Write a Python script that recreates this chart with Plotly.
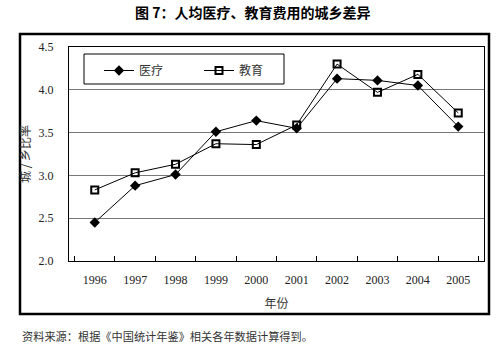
import plotly.graph_objects as go

years = ["1996", "1997", "1998", "1999", "2000", "2001", "2002", "2003", "2004", "2005"]
medical = [2.45, 2.88, 3.01, 3.51, 3.64, 3.55, 4.13, 4.11, 4.05, 3.57]
education = [2.83, 3.03, 3.13, 3.37, 3.36, 3.59, 4.30, 3.97, 4.18, 3.73]

W, H = 500, 354
L, R, T, B = 69, 16, 47, 93
pw, ph = W - L - R, H - T - B

def px_x(x):
    return (x - L) / pw

def px_y(y):
    return (H - B - y) / ph

serif = "Liberation Serif, Times New Roman, serif"
cjk = "Noto Sans CJK SC, sans-serif"

fig = go.Figure()
fig.add_trace(go.Scatter(
    x=years, y=medical, name="医疗", mode="lines+markers",
    line=dict(color="black", width=1),
    marker=dict(symbol="diamond", size=8, color="black"),
))
fig.add_trace(go.Scatter(
    x=years, y=education, name="教育", mode="lines+markers",
    line=dict(color="black", width=1),
    marker=dict(symbol="square-open", size=7, color="black", line=dict(width=2)),
))

fig.update_layout(
    width=W, height=H,
    margin=dict(l=L, r=R, t=T, b=B),
    paper_bgcolor="white", plot_bgcolor="white",
    showlegend=True,
    legend=dict(
        orientation="h", x=px_x(99), y=px_y(56), xanchor="left", yanchor="top",
        borderwidth=0, bgcolor="rgba(0,0,0,0)",
        font=dict(family=cjk, size=12, color="#333"),
        entrywidth=55, entrywidthmode="pixels",
        itemwidth=30,
    ),
    xaxis=dict(
        type="category", tickson="boundaries", ticks="inside", ticklen=5,
        tickcolor="black", showline=True, linecolor="black", mirror=True,
        showgrid=False, ticklabelstandoff=8,
        tickfont=dict(family=serif, size=12, color="#222"),
        title=dict(text="年份", font=dict(family=cjk, size=12, color="#333"), standoff=13),
    ),
    yaxis=dict(
        range=[2.0, 4.5], dtick=0.5, tickformat=".1f",
        showline=True, linecolor="black", mirror=True,
        showgrid=True, gridcolor="#777", gridwidth=1,
        ticks="", ticklabelstandoff=12,
        tickfont=dict(family=serif, size=12, color="#222"),
        title=dict(text="城 / 乡比率", font=dict(family=cjk, size=12, color="#333"), standoff=5),
        zeroline=False,
    ),
    shapes=[
        dict(type="rect", xref="paper", yref="paper",
             x0=px_x(20), x1=px_x(489), y0=px_y(314), y1=px_y(34),
             line=dict(color="black", width=2.5), layer="below"),
        dict(type="rect", xref="paper", yref="paper",
             x0=px_x(84), x1=px_x(284), y0=px_y(84), y1=px_y(54),
             line=dict(color="black", width=1), fillcolor="white", layer="below"),
    ],
    annotations=[
        dict(text="<b>图 7：人均医疗、教育费用的城乡差异</b>", xref="paper", yref="paper",
             x=px_x(252), y=px_y(12), xanchor="center", yanchor="middle", showarrow=False,
             font=dict(family=cjk, size=14, color="black")),
        dict(text="资料来源：根据《中国统计年鉴》相关各年数据计算得到。", xref="paper", yref="paper",
             x=px_x(20), y=px_y(336), xanchor="left", yanchor="middle", showarrow=False,
             font=dict(family=cjk, size=11.2, color="#333")),
    ],
)

fig.write_html("out.html")
